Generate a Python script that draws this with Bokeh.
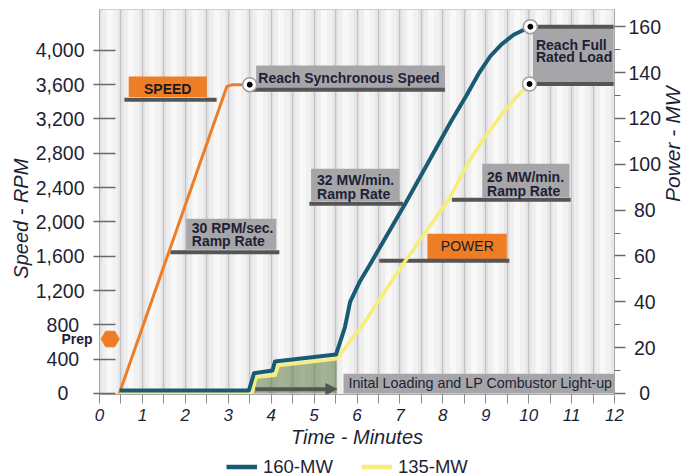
import numpy as np
from bokeh.plotting import figure
from bokeh.layouts import column
from bokeh.models import (Range1d, LinearAxis, FixedTicker, Legend, LegendItem, Arrow, NormalHead)
from bokeh.core.properties import value
from bokeh.embed import file_html
from bokeh.resources import INLINE

# ---------------- data ----------------
time_speed = [0.46, 2.97, 3.10, 3.50]
speed_rpm = [0, 3580, 3600, 3600]

time_160 = [0.47, 3.48, 3.60, 4.03, 4.09, 5.51, 5.72, 5.84, 6.07, 6.31, 7.16, 8.20,
            8.55, 8.85, 9.10, 9.35, 9.65, 10.04]
mw_160 = [1.3, 1.3, 8.8, 10.0, 14.0, 17.0, 29.0, 40.0, 49.0, 56.5, 84.0, 119.0,
          130.0, 140.0, 147.0, 152.0, 156.5, 160.0]

time_135 = [0.47, 3.55, 3.65, 4.09, 4.17, 5.53, 6.15, 7.08, 8.15, 8.60, 8.95, 9.34, 9.70, 10.02]
mw_135 = [0, 0, 7.1, 7.9, 12.2, 15.1, 30.4, 56.6, 85.0, 101.0, 111.0, 121.0, 129.0, 135.0]

time_ticks = list(range(0, 13))
rpm_ticks = [0, 400, 800, 1200, 1600, 2000, 2400, 2800, 3200, 3600, 4000]
rpm_tick_labels = ["0", "400", "800", "1,200", "1,600", "2,000", "2,400", "2,800", "3,200", "3,600", "4,000"]
mw_ticks = [0, 20, 40, 60, 80, 100, 120, 140, 160]
mw_minor_ticks = [10, 30, 50, 70, 90, 110, 130, 150]
series_names = ["160-MW", "135-MW"]

# ---------------- styling ----------------
FONT = "Liberation Sans"
TXT = "#1e1f36"
ORANGE = "#ee7d26"
BLUE = "#195b74"
YELLOW = "#f5ee78"
BOXGRAY = "#a6a6a8"
BARGRAY = "#555555"
TICKGRAY = "#6a6a6a"

RPM_LO, RPM_HI = -11.7, 4476
MW_LO, MW_HI = -0.44, 167.5
PREP_RPM = 635          # position of the "Prep" marker on the speed scale

FIG = "\u2007"   # figure space (digit width) for centring tick labels
PUN = "\u2008"   # punctuation space (comma width)


def pad_left_label(s):
    if len(s) == 1:
        return s + FIG + PUN
    if len(s) == 3:
        return s + PUN
    return s


def pad_right_label(v):
    s = str(v)
    if len(s) == 1:
        return FIG + s
    if len(s) == 2:
        return PUN + s
    return s


p = figure(frame_width=515, frame_height=385, x_range=Range1d(0, 12), y_range=Range1d(RPM_LO, RPM_HI),
           output_backend="svg", toolbar_location=None,
           min_border_left=99, min_border_right=77, min_border_top=9, min_border_bottom=53,
           background_fill_color="#ececec", border_fill_color="white",
           outline_line_color="#c4c4c4")
p.extra_y_ranges = {"mw": Range1d(MW_LO, MW_HI)}

# striped background (half-minute columns with a soft cylinder shading)
half_edges = np.arange(0, 12.0001, 0.5)
fracs = [0.0, 0.12, 0.32, 0.62, 0.85, 1.0]
shades = ["#e3e3e5", "#eeeeef", "#f8f8f9", "#f1f1f2", "#e7e7e9"]
lefts, rights, cols = [], [], []
for a in half_edges[:-1]:
    for i in range(len(shades)):
        lefts.append(a + 0.5 * fracs[i])
        rights.append(a + 0.5 * fracs[i + 1])
        cols.append(shades[i])
p.quad(left=lefts, right=rights, top=RPM_HI, bottom=RPM_LO, fill_color=cols, line_color=None, level="image")

p.xgrid.ticker = FixedTicker(ticks=list(half_edges))
p.xgrid.grid_line_color = "#c2c2c4"
p.xgrid.grid_line_width = 1.2
p.ygrid.visible = False

# bottom axis
xa = p.xaxis[0]
xa.ticker = FixedTicker(ticks=time_ticks, minor_ticks=[t + 0.5 for t in time_ticks[:-1]])
xa.major_tick_in = 0
xa.major_tick_out = 9
xa.minor_tick_in = 0
xa.minor_tick_out = 9
xa.major_tick_line_color = "#8a8a8a"
xa.minor_tick_line_color = "#8a8a8a"
xa.axis_line_color = "#a8a8a8"
xa.major_label_text_font = FONT
xa.major_label_text_font_size = "17px"
xa.major_label_text_font_style = "italic"
xa.major_label_text_color = TXT
xa.major_label_standoff = 5
xa.axis_label = "Time - Minutes"
xa.axis_label_text_font = FONT
xa.axis_label_text_font_size = "20px"
xa.axis_label_text_font_style = "italic"
xa.axis_label_text_color = TXT
xa.axis_label_standoff = 2

# inner left axis: tick marks (as minor ticks) + "Prep" label
ya = p.yaxis[0]
ya.ticker = FixedTicker(ticks=[PREP_RPM], minor_ticks=rpm_ticks)
ya.major_tick_line_color = None
ya.major_tick_in = 0
ya.major_tick_out = 0
ya.minor_tick_in = 16
ya.minor_tick_out = 6
ya.minor_tick_line_color = TICKGRAY
ya.minor_tick_line_width = 1.5
ya.axis_line_color = "#a8a8a8"
ya.major_label_overrides = {PREP_RPM: "Prep"}
ya.major_label_text_font = FONT
ya.major_label_text_font_size = "14px"
ya.major_label_text_font_style = "bold"
ya.major_label_text_color = TXT
ya.major_label_standoff = 1

# outer left axis: RPM numbers + title
la = LinearAxis(ticker=FixedTicker(ticks=rpm_ticks),
                major_label_overrides={v: pad_left_label(s) for v, s in zip(rpm_ticks, rpm_tick_labels)},
                major_tick_line_color=None, minor_tick_line_color=None, axis_line_color=None,
                major_tick_in=0, major_tick_out=0, minor_tick_in=0, minor_tick_out=0,
                major_label_standoff=-26, major_label_text_font=FONT,
                major_label_text_font_size="19.5px", major_label_text_color=TXT,
                axis_label="Speed - RPM" + "\u00a0" * 6, axis_label_text_font=FONT,
                axis_label_text_font_size="20px", axis_label_text_font_style="italic",
                axis_label_text_color=TXT, axis_label_standoff=1)
p.add_layout(la, "left")

# right axis
ra = LinearAxis(y_range_name="mw", ticker=FixedTicker(ticks=mw_ticks, minor_ticks=mw_minor_ticks),
                major_label_overrides={v: pad_right_label(v) for v in mw_ticks},
                major_tick_in=0, major_tick_out=11, minor_tick_in=0, minor_tick_out=6,
                major_tick_line_color=TICKGRAY, minor_tick_line_color=TICKGRAY,
                major_tick_line_width=1.5, minor_tick_line_width=1.2,
                axis_line_color="#a8a8a8", major_label_standoff=3,
                major_label_text_font=FONT, major_label_text_font_size="19.5px",
                major_label_text_color=TXT,
                axis_label="Power - MW", axis_label_text_font=FONT, axis_label_text_font_size="21px",
                axis_label_text_color=TXT, axis_label_standoff=8)
if hasattr(ra, "axis_label_orientation"):
    ra.axis_label_orientation = np.pi / 2
p.add_layout(ra, "right")

# initial loading shaded area + arrow
sel = [i for i, t in enumerate(time_135) if 3.5 <= t <= 5.6]
fill_t = [time_135[i] for i in sel]
fill_v = [mw_135[i] for i in sel]
p.varea(x=fill_t, y1=0, y2=fill_v, y_range_name="mw", fill_color="#5d7a45", fill_alpha=0.55)
p.add_layout(Arrow(end=NormalHead(size=11, fill_color=BARGRAY, line_color=BARGRAY),
                   x_start=3.63, y_start=1.9, x_end=5.53, y_end=1.9, y_range_name="mw",
                   line_color=BARGRAY, line_width=4))

# annotation boxes (time, MW units)
box_l = [0.68, 3.65, 2.02, 4.93, 8.92, 7.64, 10.10, 5.685]
box_r = [2.50, 8.05, 4.12, 6.99, 10.95, 9.49, 11.98, 12.0]
box_t = [138.3, 143.1, 76.2, 98.0, 100.2, 69.7, 159.8, 8.6]
box_b = [129.3, 132.9, 62.7, 83.9, 85.6, 58.3, 135.1, 0.0]
box_c = [ORANGE, BOXGRAY, BOXGRAY, BOXGRAY, BOXGRAY, ORANGE, BOXGRAY, BOXGRAY]
p.quad(left=box_l, right=box_r, top=box_t, bottom=box_b, y_range_name="mw",
       fill_color=box_c, line_color=None)

bar_x0 = [0.58, 3.50, 1.65, 4.89, 8.21, 6.52, 10.04, 10.04]
bar_x1 = [2.73, 8.05, 4.19, 7.07, 10.98, 9.55, 11.98, 11.98]
bar_y = [128.1, 132.5, 61.6, 82.8, 84.5, 57.9, 160.0, 135.0]
p.segment(x0=bar_x0, y0=bar_y, x1=bar_x1, y1=bar_y, y_range_name="mw",
          line_color=BARGRAY, line_width=4)

# annotation texts
p.text(x=[3.70, 2.15, 2.15, 5.07, 5.07, 9.03, 9.03, 10.17, 10.17],
       y=[137.5, 72.2, 66.5, 93.1, 87.0, 94.6, 88.4, 152.1, 146.7],
       text=["Reach Synchronous Speed", "30 RPM/sec.", "Ramp Rate", "32 MW/min.", "Ramp Rate",
             "26 MW/min.", "Ramp Rate", "Reach Full", "Rated Load"],
       y_range_name="mw", text_font=value(FONT), text_font_size=value("14px"), text_font_style="bold",
       text_align="left", text_baseline="alphabetic", text_color=TXT)
p.text(x=[1.59], y=[132.9], text=["SPEED"], y_range_name="mw", text_font=value(FONT),
       text_font_size=value("14px"), text_font_style="bold", text_align="center",
       text_baseline="alphabetic", text_color="#1a1a1a")
p.text(x=[8.57], y=[64.5], text=["POWER"], y_range_name="mw", text_font=value(FONT),
       text_font_size=value("14px"), text_align="center", text_baseline="alphabetic", text_color="#1a1a1a")
p.text(x=[5.80], y=[4.45], text=["Inital Loading and LP Combustor Light-up"], y_range_name="mw",
       text_font=value(FONT), text_font_size=value("14.3px"), text_align="left",
       text_baseline="alphabetic", text_color=TXT)

# prep marker
p.scatter(x=[0.25], y=[PREP_RPM], marker="hex", size=18, fill_color=ORANGE, line_color=ORANGE)

# series
orange = p.line(time_speed, speed_rpm, line_color=ORANGE, line_width=3, line_join="round")
yellow = p.line(time_135, mw_135, y_range_name="mw", line_color=YELLOW, line_width=3.5, line_join="round")
blue = p.line(time_160, mw_160, y_range_name="mw", line_color=BLUE, line_width=4, line_join="round")

# end markers
p.scatter(x=[time_speed[-1]], y=[speed_rpm[-1]], size=14, fill_color="white", line_color="#a0a0a0", line_width=1.5)
p.scatter(x=[time_speed[-1]], y=[speed_rpm[-1]], size=5, fill_color="black", line_color="black")
p.scatter(x=[time_160[-1], time_135[-1]], y=[mw_160[-1], mw_135[-1]], y_range_name="mw",
          size=14, fill_color="white", line_color="#a0a0a0", line_width=1.5)
p.scatter(x=[time_160[-1], time_135[-1]], y=[mw_160[-1], mw_135[-1]], y_range_name="mw",
          size=5, fill_color="black", line_color="black")

# ---------------- legend strip below the chart ----------------
LEG_W, LEG_H = 691, 29
pl = figure(width=LEG_W, height=LEG_H, x_range=Range1d(0, LEG_W), y_range=Range1d(0, LEG_H),
            x_axis_type=None, y_axis_type=None, toolbar_location=None, output_backend="svg",
            min_border=0, outline_line_color=None, background_fill_color="white",
            border_fill_color="white")
pl.grid.visible = False
# stand-in renderers (kept outside the visible range) that carry the series styles
off = [-100, -99]
leg_blue = pl.line(x=off, y=off, line_color=BLUE, line_width=4.5)
leg_yellow = pl.line(x=off, y=off, line_color=YELLOW, line_width=4.5)
legend = Legend(items=[LegendItem(label=series_names[0], renderers=[leg_blue]),
                       LegendItem(label=series_names[1], renderers=[leg_yellow])],
                location=(127, 1.5), orientation="horizontal", glyph_width=31, glyph_height=21,
                label_standoff=6, spacing=28, padding=0, margin=0, border_line_color=None,
                background_fill_alpha=0, label_text_font=FONT, label_text_font_size="18.5px",
                label_text_color=TXT, label_height=21)
pl.add_layout(legend)

layout = column(p, pl, spacing=0)
open("out.html", "w").write(file_html(layout, INLINE))
